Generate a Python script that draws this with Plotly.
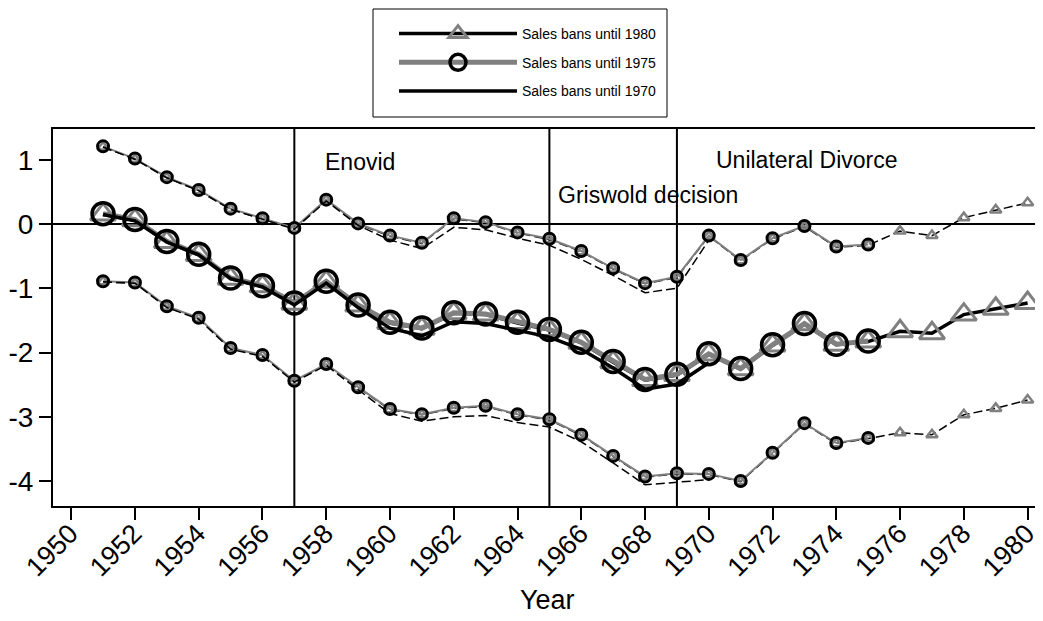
import plotly.graph_objects as go

# ---------------- data ----------------
years_1980 = list(range(1951, 1981))
years_1975 = list(range(1951, 1976))
years_1970 = list(range(1951, 1971))

est_1975 = [0.16, 0.07, -0.27, -0.47, -0.84, -0.96, -1.23, -0.89, -1.26, -1.53,
            -1.62, -1.38, -1.40, -1.53, -1.64, -1.84, -2.14, -2.42, -2.34, -2.02,
            -2.25, -1.88, -1.55, -1.87, -1.82]
up_1975 = [1.21, 1.02, 0.73, 0.53, 0.24, 0.09, -0.06, 0.38, 0.01, -0.18,
           -0.29, 0.09, 0.03, -0.13, -0.23, -0.42, -0.69, -0.92, -0.82, -0.18,
           -0.56, -0.22, -0.03, -0.35, -0.32]
lo_1975 = [-0.89, -0.91, -1.28, -1.46, -1.93, -2.04, -2.44, -2.18, -2.54, -2.88,
           -2.96, -2.86, -2.83, -2.96, -3.04, -3.28, -3.61, -3.93, -3.88, -3.89,
           -4.00, -3.56, -3.10, -3.41, -3.33]

est_1980 = [0.15, 0.06, -0.28, -0.48, -0.85, -0.97, -1.24, -0.90, -1.27, -1.54,
            -1.63, -1.39, -1.41, -1.54, -1.65, -1.85, -2.15, -2.43, -2.35, -2.03,
            -2.26, -1.89, -1.56, -1.88, -1.83, -1.67, -1.70, -1.41, -1.32, -1.23]
up_1980 = [1.20, 1.01, 0.72, 0.52, 0.23, 0.08, -0.07, 0.37, 0.00, -0.19,
           -0.30, 0.08, 0.02, -0.14, -0.24, -0.43, -0.70, -0.93, -0.83, -0.19,
           -0.57, -0.23, -0.04, -0.36, -0.33, -0.11, -0.18, 0.10, 0.22, 0.33]
lo_1980 = [-0.90, -0.92, -1.29, -1.47, -1.94, -2.05, -2.45, -2.19, -2.55, -2.89,
           -2.97, -2.87, -2.84, -2.97, -3.05, -3.29, -3.62, -3.94, -3.89, -3.90,
           -4.01, -3.57, -3.11, -3.42, -3.34, -3.25, -3.28, -2.97, -2.87, -2.74]

est_1970 = [0.15, 0.05, -0.28, -0.48, -0.85, -0.98, -1.26, -0.92, -1.30, -1.62,
            -1.74, -1.52, -1.55, -1.65, -1.76, -1.95, -2.24, -2.57, -2.49, -2.16]
up_1970 = [1.20, 1.01, 0.72, 0.52, 0.23, 0.08, -0.08, 0.36, -0.02, -0.25,
           -0.38, -0.05, -0.09, -0.22, -0.33, -0.55, -0.80, -1.07, -1.00, -0.25]
lo_1970 = [-0.90, -0.92, -1.30, -1.48, -1.95, -2.06, -2.46, -2.20, -2.58, -2.95,
           -3.07, -3.00, -2.98, -3.09, -3.16, -3.39, -3.72, -4.06, -4.02, -3.98]

event_years = [1957, 1965, 1969]
event_labels = ["Enovid", "Griswold decision", "Unilateral Divorce"]
event_label_x = [1957.9, 1965.2, 1970.15]
event_label_y = [0.96, 0.46, 1.0]

x_ticks = list(range(1950, 1981, 2))
y_ticks = [-4, -3, -2, -1, 0, 1]

GRAY = "#808080"
FONT = "Liberation Sans, Arial, sans-serif"

fig = go.Figure()

# --- 1980 series ---
for yv in (up_1980, lo_1980):
    fig.add_trace(go.Scatter(
        x=years_1980, y=yv, mode="lines+markers", legendgroup="g1980", showlegend=False,
        line=dict(color="black", width=1.5, dash="9px,4px"),
        marker=dict(symbol="triangle-up-open", size=10, color=GRAY, line=dict(width=2.5, color=GRAY)),
        hoverinfo="skip"))
fig.add_trace(go.Scatter(
    x=years_1980, y=est_1980, mode="lines+markers", name="Sales bans until 1980", legendgroup="g1980",
    line=dict(color="black", width=3.5),
    marker=dict(symbol="triangle-up-open", size=22, color=GRAY, line=dict(width=3, color=GRAY))))

# --- 1975 series ---
for yv in (up_1975, lo_1975):
    fig.add_trace(go.Scatter(
        x=years_1975, y=yv, mode="lines+markers", legendgroup="g1975", showlegend=False,
        line=dict(color=GRAY, width=2),
        marker=dict(symbol="circle-open", size=11, color="black", line=dict(width=3, color="black")),
        hoverinfo="skip"))
fig.add_trace(go.Scatter(
    x=years_1975, y=est_1975, mode="lines+markers", name="Sales bans until 1975", legendgroup="g1975",
    line=dict(color=GRAY, width=5),
    marker=dict(symbol="circle-open", size=22, color="black", line=dict(width=3.5, color="black"))))

# --- 1970 series ---
for yv in (up_1970, lo_1970):
    fig.add_trace(go.Scatter(
        x=years_1970, y=yv, mode="lines", legendgroup="g1970", showlegend=False,
        line=dict(color="black", width=1.5, dash="9px,4px"), hoverinfo="skip"))
fig.add_trace(go.Scatter(
    x=years_1970, y=est_1970, mode="lines", name="Sales bans until 1970", legendgroup="g1970",
    line=dict(color="black", width=3.5)))

# reference lines
for ev in event_years:
    fig.add_vline(x=ev, line=dict(color="black", width=2), layer="below")
fig.add_hline(y=0, line=dict(color="black", width=2), layer="below")

for lx, ly, txt in zip(event_label_x, event_label_y, event_labels):
    fig.add_annotation(x=lx, y=ly, text=txt, showarrow=False, xanchor="left", yanchor="middle",
                       font=dict(size=23, color="black", family=FONT))

# layout geometry (page pixels; the page body adds an 8px offset)
OFF = 8
W, H = 1043 - OFF, 621 - OFF
PL, PR, PT, PB = 53, 1041, 129, 506          # plot frame in page pixels
ML, MR, MT, MB = PL - OFF, W - (PR - OFF), PT - OFF, H - (PB - OFF)
PW, PH = W - ML - MR, H - MT - MB


def px_x(p):
    return (p - PL) / PW


def px_y(p):
    return 1 + (PT - p) / PH


# legend frame
fig.add_shape(type="rect", xref="paper", yref="paper",
              x0=px_x(373), x1=px_x(667), y0=px_y(117), y1=px_y(9),
              line=dict(color="black", width=1), fillcolor="white", layer="below")

# x-axis title
fig.add_annotation(x=0.5, y=px_y(600), xref="paper", yref="paper", text="Year", showarrow=False,
                   xanchor="center", yanchor="middle", font=dict(size=27, family=FONT, color="black"))

fig.update_layout(
    width=W, height=H,
    margin=dict(l=ML, r=MR, t=MT, b=MB),
    paper_bgcolor="white", plot_bgcolor="white",
    font=dict(family=FONT, color="black"),
    showlegend=True,
    legend=dict(x=px_x(394), y=px_y(18), xanchor="left", yanchor="top",
                bgcolor="rgba(0,0,0,0)", borderwidth=0,
                font=dict(size=14, family=FONT), itemwidth=118, tracegroupgap=7.5,
                traceorder="grouped"),
    xaxis=dict(range=[1949.43, 1980.42], tickvals=x_ticks, ticktext=[str(t) for t in x_ticks],
               tickangle=-45, ticks="outside", ticklen=12, tickwidth=1.5, tickcolor="black",
               showline=True, linecolor="black", linewidth=2, mirror=True, showgrid=False,
               zeroline=False, tickfont=dict(size=27, family=FONT), automargin=False,
               ticklabelstandoff=-13, ticklabelshift=-1, ticklabeloverflow="allow"),
    yaxis=dict(range=[-4.39, 1.48], tickvals=y_ticks, ticktext=[str(t) for t in y_ticks],
               ticks="outside", ticklen=12, tickwidth=1.5, tickcolor="black",
               showline=True, linecolor="black", linewidth=2, mirror=True, showgrid=False,
               zeroline=False, tickfont=dict(size=28, family=FONT), automargin=False),
)

fig.write_html("out.html")
